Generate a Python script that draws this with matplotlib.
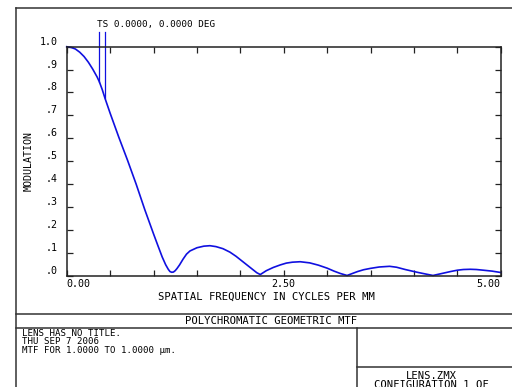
import numpy as np
import matplotlib
matplotlib.use("Agg")
import matplotlib.pyplot as plt
from matplotlib.lines import Line2D
from matplotlib.transforms import offset_copy

# =========================
# DATA
# =========================
freq = [0.0, 0.05, 0.1, 0.15, 0.2, 0.25, 0.3, 0.35, 0.376, 0.41, 0.441,
        0.5, 0.6, 0.7, 0.8, 0.9, 1.0, 1.05, 1.1, 1.14, 1.17, 1.19, 1.21,
        1.23, 1.25, 1.27, 1.3, 1.34, 1.38, 1.42, 1.5, 1.58, 1.65, 1.72,
        1.8, 1.88, 1.95, 2.0, 2.05, 2.1, 2.15, 2.19, 2.23, 2.3, 2.38, 2.46,
        2.53, 2.6, 2.69, 2.8, 2.9, 3.0, 3.08, 3.15, 3.23, 3.35, 3.42, 3.5,
        3.6, 3.72, 3.8, 3.9, 3.98, 4.05, 4.14, 4.22, 4.35, 4.42, 4.5, 4.57,
        4.65, 4.72, 4.8, 4.9, 5.0]
mtf = [1.0, 0.997, 0.99, 0.976, 0.957, 0.932, 0.902, 0.868, 0.847, 0.812,
       0.775, 0.71, 0.605, 0.505, 0.40, 0.288, 0.183, 0.132, 0.082, 0.048,
       0.028, 0.018, 0.015, 0.016, 0.022, 0.031, 0.047, 0.072, 0.094, 0.108,
       0.122, 0.129, 0.131, 0.127, 0.118, 0.103, 0.085, 0.07, 0.055, 0.04,
       0.025, 0.013, 0.005, 0.022, 0.036, 0.047, 0.055, 0.059, 0.061, 0.056,
       0.046, 0.033, 0.02, 0.01, 0.001, 0.018, 0.026, 0.032, 0.038, 0.041,
       0.037, 0.027, 0.02, 0.014, 0.007, 0.001, 0.012, 0.018, 0.024, 0.027,
       0.028, 0.027, 0.024, 0.02, 0.014]

ts_freq = [0.376, 0.441]
ts_label = "TS 0.0000, 0.0000 DEG"

xtick_pos = np.arange(0, 5.01, 0.5)
xlabels = {0.0: "0.00", 2.5: "2.50", 5.0: "5.00"}
ytick_pos = np.round(np.arange(0, 1.01, 0.1), 1)
ytick_labels = [".0", ".1", ".2", ".3", ".4", ".5", ".6", ".7", ".8", ".9", "1.0"]

title = "POLYCHROMATIC GEOMETRIC MTF"
info_lines = ["LENS HAS NO TITLE.", "THU SEP 7 2006", "MTF FOR 1.0000 TO 1.0000 \u00b5m."]

# =========================
# FIGURE
# =========================
W, H = 512, 387
fig = plt.figure(figsize=(W / 100, H / 100), dpi=100)
MONO = "DejaVu Sans Mono"
BLUE = "#1010e0"
FRAME = "#333333"


def px(x, y):
    return x / W, 1 - y / H


ax_l, ax_r, ax_t, ax_b = 66.7, 500.7, 46.7, 275.7
ax = fig.add_axes([ax_l / W, 1 - ax_b / H, (ax_r - ax_l) / W, (ax_b - ax_t) / H])

ax.plot(freq, mtf, color=BLUE, lw=1.2, clip_on=False)

# T / S markers
ts_mod = np.interp(ts_freq, freq, mtf)
for f, m in zip(ts_freq, ts_mod):
    ax.plot([f, f], [m, 1.066], color=BLUE, lw=0.9, clip_on=False)
fig.text(*px(97.3, 25), ts_label, family=MONO, fontsize=6.7, va="center", ha="left")

ax.set_xlim(0, 5)
ax.set_ylim(0, 1)
ax.set_xticks(xtick_pos)
ax.set_yticks(ytick_pos)
ax.set_xticklabels([])
ax.set_yticklabels([])
ax.tick_params(direction="in", length=4, width=0.9, top=True, right=True, color="#222222")
for s in ax.spines.values():
    s.set_linewidth(1.1)
    s.set_color("#222222")

# y labels (drawn a bit above the ticks)
ytr = offset_copy(ax.get_yaxis_transform(), fig=fig, x=-9.4, y=5, units="dots")
for v, lab in zip(ytick_pos, ytick_labels):
    ax.text(0, v, lab, transform=ytr, ha="right", va="center", family=MONO, fontsize=7.2)

# x labels
xtr = offset_copy(ax.get_xaxis_transform(), fig=fig, x=0, y=-8, units="dots")
for v, lab in xlabels.items():
    ha = "left" if v == 0 else ("right" if v == 5 else "center")
    ax.text(v, 0, lab, transform=xtr, ha=ha, va="center", family=MONO, fontsize=7.2)

fig.text(*px(266, 297), "SPATIAL FREQUENCY IN CYCLES PER MM", family=MONO,
         fontsize=7.6, ha="center", va="center")
fig.text(*px(29, 161), "MODULATION", family=MONO, fontsize=7.2, rotation=90,
         ha="center", va="center")

# =========================
# FRAME / TITLE BLOCK
# =========================
segs = [((16, 7.5), (512, 7.5)), ((16, 7.5), (16, 387)),
        ((16, 314), (512, 314)), ((16, 328), (512, 328)),
        ((357, 328), (357, 387)), ((357, 367), (512, 367))]
for (x0, y0), (x1, y1) in segs:
    a, b = px(x0, y0), px(x1, y1)
    fig.add_artist(Line2D([a[0], b[0]], [a[1], b[1]], transform=fig.transFigure,
                          color=FRAME, lw=1.1))

fig.text(*px(271, 321), title, family=MONO, fontsize=7.6, ha="center", va="center")
for i, line in enumerate(info_lines):
    fig.text(*px(22, 333 + 8.6 * i), line, family=MONO, fontsize=6.6,
             ha="left", va="center")
fig.text(*px(431, 376), "LENS.ZMX", family=MONO, fontsize=7.6, ha="center", va="center")
fig.text(*px(431, 385.5), "CONFIGURATION 1 OF", family=MONO, fontsize=7.6,
         ha="center", va="center")

fig.savefig("out.png", dpi=100)
